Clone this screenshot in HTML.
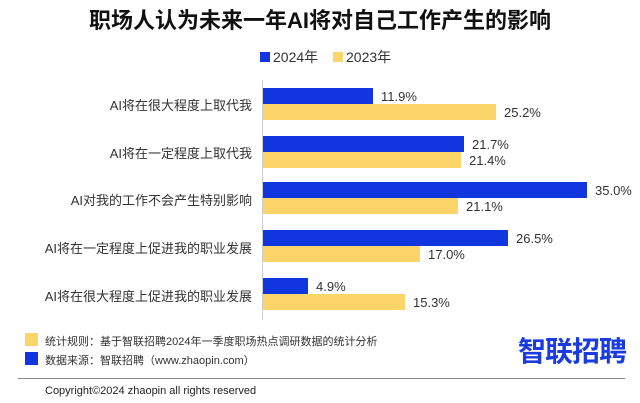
<!DOCTYPE html><html><head><meta charset="utf-8"><style>
body{margin:0;width:640px;height:403px;background:#fff;font-family:"Liberation Sans","Noto Sans CJK SC",sans-serif;position:relative;overflow:hidden}
.a{position:absolute;white-space:nowrap}
.t{left:0;width:640px;text-align:center;top:3px;font-size:22px;font-weight:bold;color:#111}
.cat{right:388px;font-size:13px;color:#333}
.b{position:absolute;left:263px;height:16px}
.bl{background:#1136e0}.yl{background:#fbd56a}
.v{font-size:13px;color:#333}
</style></head><body>
<div class="a t">职场人认为未来一年AI将对自己工作产生的影响</div>
<div class="a" style="left:260px;top:52px;width:10px;height:10px;background:#1136e0"></div>
<div class="a" style="left:273px;top:47px;font-size:14px;color:#333">2024年</div>
<div class="a" style="left:333px;top:52px;width:10px;height:10px;background:#fbd56a"></div>
<div class="a" style="left:346px;top:47px;font-size:14px;color:#333">2023年</div>
<div class="a" style="left:262px;top:80px;width:1px;height:240px;background:#ccc"></div>

<div class="a cat" style="top:95px">AI将在很大程度上取代我</div>
<div class="b bl" style="top:88px;width:110px"></div><div class="a v" style="left:381px;top:89px">11.9%</div>
<div class="b yl" style="top:104px;width:233px"></div><div class="a v" style="left:504px;top:105px">25.2%</div>

<div class="a cat" style="top:143px">AI将在一定程度上取代我</div>
<div class="b bl" style="top:136px;width:201px"></div><div class="a v" style="left:472px;top:137px">21.7%</div>
<div class="b yl" style="top:152px;width:198px"></div><div class="a v" style="left:469px;top:153px">21.4%</div>

<div class="a cat" style="top:190px">AI对我的工作不会产生特别影响</div>
<div class="b bl" style="top:182px;width:324px"></div><div class="a v" style="left:595px;top:183px">35.0%</div>
<div class="b yl" style="top:198px;width:195px"></div><div class="a v" style="left:466px;top:199px">21.1%</div>

<div class="a cat" style="top:238px">AI将在一定程度上促进我的职业发展</div>
<div class="b bl" style="top:230px;width:245px"></div><div class="a v" style="left:516px;top:231px">26.5%</div>
<div class="b yl" style="top:246px;width:157px"></div><div class="a v" style="left:428px;top:247px">17.0%</div>

<div class="a cat" style="top:286px">AI将在很大程度上促进我的职业发展</div>
<div class="b bl" style="top:278px;width:45px"></div><div class="a v" style="left:316px;top:279px">4.9%</div>
<div class="b yl" style="top:294px;width:142px"></div><div class="a v" style="left:413px;top:295px">15.3%</div>

<div class="a" style="left:25px;top:333px;width:13px;height:13px;background:#fbd56a"></div>
<div class="a" style="left:45px;top:333px;font-size:11px;color:#333">统计规则：基于智联招聘2024年一季度职场热点调研数据的统计分析</div>
<div class="a" style="left:25px;top:352px;width:13px;height:13px;background:#1136e0"></div>
<div class="a" style="left:45px;top:352px;font-size:11px;color:#333">数据来源：智联招聘（www.zhaopin.com）</div>
<div class="a" style="left:518px;top:330px;font-size:28px;font-weight:bold;color:#1a3be0;letter-spacing:-1px">智联招聘</div>
<div class="a" style="left:18px;top:378px;width:607px;height:1px;background:#888"></div>
<div class="a" style="left:45px;top:385px;font-size:11px;color:#222">Copyright©2024 zhaopin all rights reserved</div>
</body></html>
